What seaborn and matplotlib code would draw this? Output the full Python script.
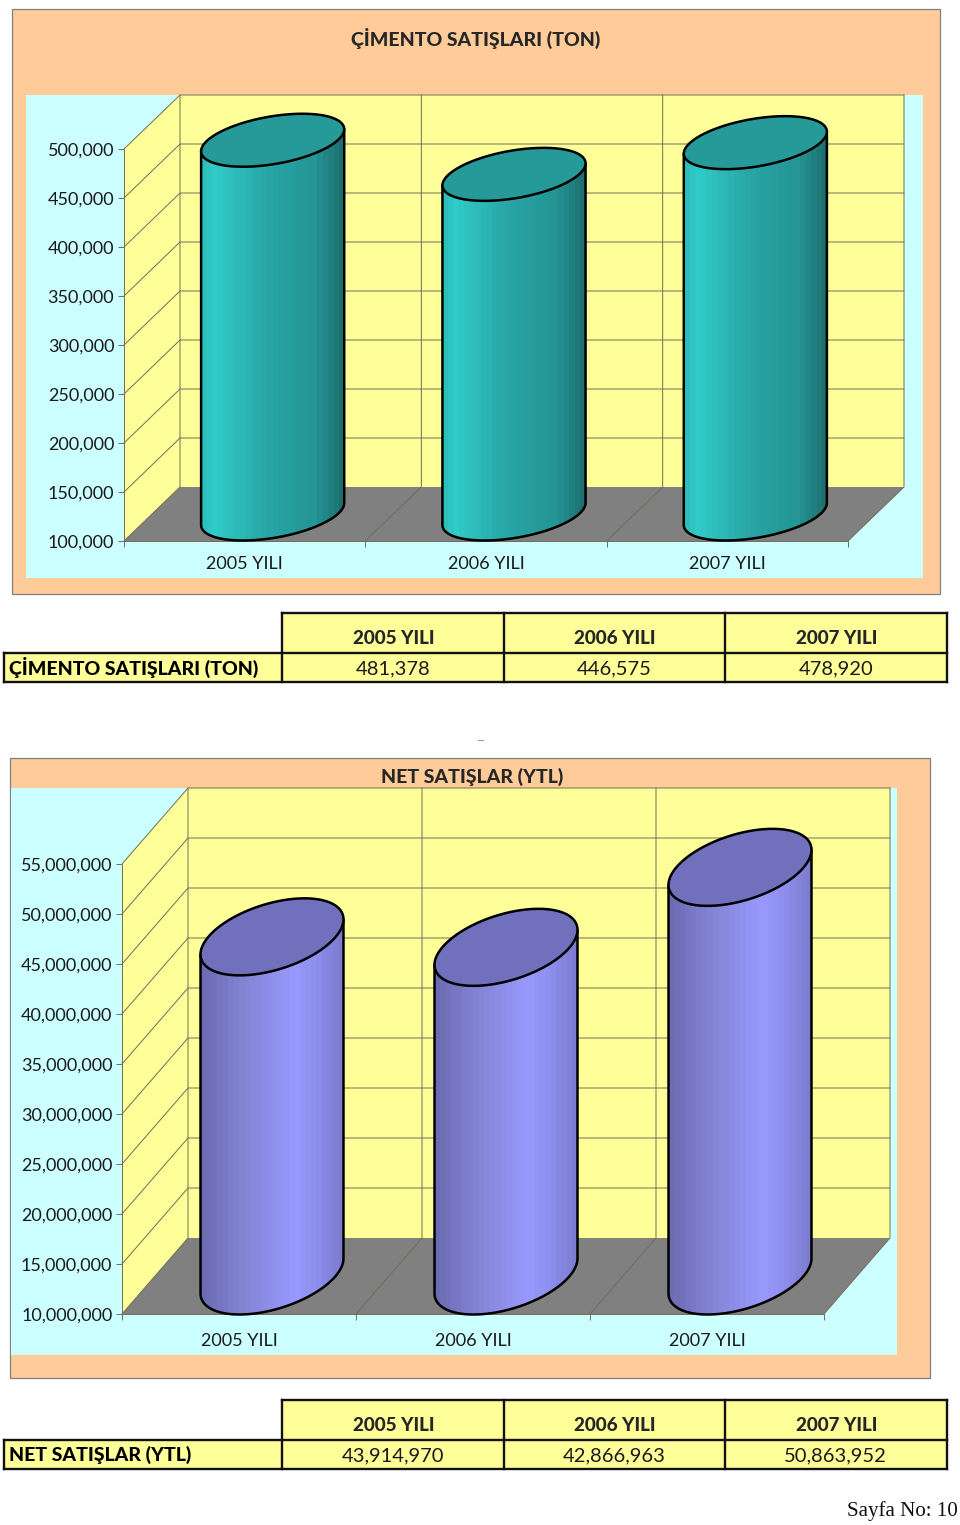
import numpy as np
import pandas as pd
import matplotlib
matplotlib.use('Agg')
import matplotlib.pyplot as plt
from matplotlib.colors import LinearSegmentedColormap
from matplotlib.patches import Polygon, Rectangle
import seaborn as sns

sns.set_style('white')
plt.rcParams['font.family'] = ['Lato', 'DejaVu Sans']

years = ['2005 YILI', '2006 YILI', '2007 YILI']

cement_title = 'ÇİMENTO SATIŞLARI (TON)'
cement_values = [481378, 446575, 478920]
cement_ticks = [100000, 150000, 200000, 250000, 300000, 350000, 400000, 450000, 500000]

sales_title = 'NET SATIŞLAR (YTL)'
sales_values = [43914970, 42866963, 50863952]
sales_ticks = [10000000, 15000000, 20000000, 25000000, 30000000,
               35000000, 40000000, 45000000, 50000000, 55000000]

W, H = 960, 1525
PANEL = '#FFCC99'
CYAN = '#CCFFFF'
WALL = '#FFFF99'
FLOOR = '#808080'
GRID = '#6E6E58'

cement_cmap = LinearSegmentedColormap.from_list('teal', [
    (0, '#2DBFBC'), (0.07, '#30CCC8'), (0.45, '#28A6A6'), (0.8, '#259595'), (0.92, '#218080'), (1, '#1E7070')])
sales_cmap = LinearSegmentedColormap.from_list('blue', [
    (0, '#6C6CB4'), (0.3, '#8484D6'), (0.66, '#9999FF'), (0.85, '#8C8CEA'), (1, '#7C7CD0')])

fig = plt.figure(figsize=(W / 100, H / 100), dpi=100)
bg = fig.add_axes([0, 0, 1, 1], zorder=0)
bg.set_xlim(0, W)
bg.set_ylim(H, 0)
bg.axis('off')


def draw_chart(values, ticks, front, depth, tilt, rise, bar_width, cmap, top_color, pad, xpad):
    # front = left, right, y of top tick, y of first tick, in pixels
    left, right, y_top, y_floor = front
    dx_px, dy_px = depth
    ax = fig.add_axes([left / W, 1 - y_floor / H,
                       (right + dx_px - left) / W,
                       (y_floor - y_top + dy_px) / H], zorder=1)
    ax.patch.set_alpha(0)

    per_x = 3 / (right - left)
    per_y = (ticks[-1] - ticks[0]) / (y_floor - y_top)
    dx, dy = dx_px * per_x, dy_px * per_y
    xmin, xmax = -0.5, 2.5
    floor, top = ticks[0], ticks[-1]

    df = pd.DataFrame({'yil': years, 'deger': values})
    sns.barplot(data=df, x='yil', y='deger', color=top_color, saturation=1,
                width=bar_width, ax=ax, zorder=3)

    # walls and floor
    ax.add_patch(Polygon([(xmin, floor), (xmin + dx, floor + dy), (xmin + dx, top + dy), (xmin, top)],
                         fc=WALL, ec='none', zorder=1))
    ax.add_patch(Rectangle((xmin + dx, floor + dy), xmax - xmin, top - floor,
                           fc=WALL, ec='none', zorder=1))
    ax.add_patch(Polygon([(xmin, floor), (xmax, floor), (xmax + dx, floor + dy), (xmin + dx, floor + dy)],
                         fc=FLOOR, ec='none', zorder=1))

    # gridlines
    for t in ticks:
        if t == floor:
            continue
        ax.plot([xmin, xmin + dx, xmax + dx], [t, t + dy, t + dy], color=GRID, lw=0.7, zorder=2, clip_on=False)
    edges = [-0.5, 0.5, 1.5, 2.5]
    for e in edges[:-1]:
        ax.plot([e, e + dx, e + dx], [floor, floor + dy, top + dy], color=GRID, lw=0.7, zorder=2, clip_on=False)
    ax.plot([xmax, xmax + dx, xmax + dx], [floor, floor + dy, top + dy], color=GRID, lw=0.7, zorder=2, clip_on=False)
    ax.plot([xmin, xmax], [floor, floor], color=GRID, lw=0.7, zorder=2, clip_on=False)
    ax.plot([xmin, xmin], [floor, top], color=GRID, lw=0.7, zorder=2, clip_on=False)

    # turn the flat seaborn bars into cylinders standing at mid depth
    tt = np.linspace(0, 2 * np.pi, 241)
    for bar, v in zip(ax.containers[0], values):
        half = bar.get_width() / 2
        xc = bar.get_x() + half + dx / 2
        y_t = v + dy / 2
        y_b = floor + dy / 2
        tilt_d, rise_d = tilt * per_y, rise * per_y

        low = tt[(tt >= np.pi) & (tt <= 2 * np.pi)]
        up = tt[tt <= np.pi]
        arc_x = xc + half * np.cos(low)
        arc_y = y_b + tilt_d * np.cos(low) + rise_d * np.sin(low)
        up_x = xc + half * np.cos(up)
        up_y = y_t + tilt_d * np.cos(up) + rise_d * np.sin(up)
        body_x = np.concatenate([arc_x, up_x])
        body_y = np.concatenate([arc_y, up_y])

        bar.set_x(xc - half)
        bar.set_y(floor)
        bar.set_height(v + dy - floor)
        body = Polygon(np.column_stack([body_x, body_y]), fc='none', ec='none', zorder=3, transform=ax.transData)
        ax.add_patch(body)
        bar.set_clip_path(body)

        # banded shading, left to right
        shade = np.linspace(0, 1, 26)[None, :]
        im = ax.imshow(shade, cmap=cmap, aspect='auto', interpolation='nearest', zorder=3.1,
                       extent=[xc - half, xc + half, floor, v + dy])
        im.set_clip_path(body)

        # one line for left side, bottom arc and right side
        side_x = np.concatenate([[xc - half], arc_x, [xc + half]])
        side_y = np.concatenate([[y_t - tilt_d], arc_y, [y_t + tilt_d]])
        ax.plot(side_x, side_y, color='black', lw=1.8, zorder=4, clip_on=False, solid_joinstyle='round')

        cap_x = xc + half * np.cos(tt)
        cap_y = y_t + tilt_d * np.cos(tt) + rise_d * np.sin(tt)
        ax.add_patch(Polygon(np.column_stack([cap_x, cap_y]), fc=top_color, ec='black', lw=1.8,
                             zorder=5, clip_on=False))

    ax.set_xlim(xmin, xmax + dx)
    ax.set_ylim(floor, top + dy)
    sns.despine(ax=ax, left=True, bottom=True, top=True, right=True)
    ax.set_xlabel('')
    ax.set_ylabel('')
    ax.set_yticks(ticks, [f'{t:,}' for t in ticks])
    ax.set_xticks(edges, [''] * 4)
    ax.set_xticks([0, 1, 2], years, minor=True)
    ax.tick_params(axis='y', length=4.5, width=0.7, color=GRID, pad=pad, labelsize=13, labelcolor='#1A1A1A', left=True)
    ax.tick_params(axis='x', which='major', length=4.5, width=0.7, color=GRID, bottom=True)
    ax.tick_params(axis='x', which='minor', length=0, pad=xpad, labelsize=13, labelcolor='#1A1A1A')
    return ax


def draw_table(label, values, top, mid, bottom):
    cols = [4, 282, 503.5, 725, 946.5]
    bg.add_patch(Rectangle((cols[1], top), cols[4] - cols[1], bottom - top, fc=WALL, ec='none'))
    bg.add_patch(Rectangle((cols[0], mid), cols[1] - cols[0], bottom - mid, fc=WALL, ec='none'))
    for c in cols[1:]:
        bg.plot([c, c], [top, bottom], color='#111111', lw=1.7, solid_capstyle='projecting')
    bg.plot([cols[0], cols[0]], [mid, bottom], color='#111111', lw=1.7, solid_capstyle='projecting')
    bg.plot([cols[1], cols[4]], [top, top], color='#111111', lw=1.7, solid_capstyle='projecting')
    bg.plot([cols[0], cols[4]], [mid, mid], color='#111111', lw=1.7, solid_capstyle='projecting')
    bg.plot([cols[0], cols[4]], [bottom, bottom], color='#111111', lw=1.7, solid_capstyle='projecting')
    bg.text(9, (mid + bottom) / 2 + 0.5, label, fontsize=14, fontweight=900, va='center', ha='left', color='black')
    for i in range(3):
        xc = (cols[i + 1] + cols[i + 2]) / 2
        bg.text(xc + 1, (top + mid) / 2 + 6, years[i], fontsize=13.6, fontweight=900, va='center', ha='center')
        bg.text(xc, (mid + bottom) / 2 + 2, f'{values[i]:,}', fontsize=14.5, va='center', ha='center', color='#1A1A1A')


# first panel
bg.add_patch(Rectangle((11.5, 8.5), 928, 585, fc=PANEL, ec='#808080', lw=0.9))
bg.add_patch(Rectangle((26, 95), 897, 483, fc=CYAN, ec='none'))
bg.text(476, 38, cement_title, fontsize=14, fontweight=900, ha='center', va='center')
draw_chart(cement_values, cement_ticks, (124, 848, 149, 541), (56, 54), 11, 24.1, 0.593,
           cement_cmap, '#269999', 2.5, 11)
draw_table(cement_title, cement_values, 612.5, 652.5, 682)

# small mark above the second panel
bg.plot([478, 483], [739.5, 739.5], color='#999999', lw=0.8)

# second panel
bg.add_patch(Rectangle((10, 757.5), 919.5, 620, fc=PANEL, ec='#808080', lw=0.9))
bg.add_patch(Rectangle((10.5, 788), 886.5, 567, fc=CYAN, ec='none'))
bg.text(472, 777, sales_title, fontsize=14, fontweight=900, ha='center', va='center')
draw_chart(sales_values, sales_ticks, (122, 824, 864, 1314), (66, 76), 17.5, 34.3, 0.611,
           sales_cmap, '#7070BC', 2.5, 14)
draw_table(sales_title, sales_values, 1399.5, 1439.5, 1469)

bg.text(958, 1511, 'Sayfa No: 10', family='Liberation Serif', fontsize=15.1, ha='right', va='center', color='#111111')

fig.savefig('out.png', dpi=100)
